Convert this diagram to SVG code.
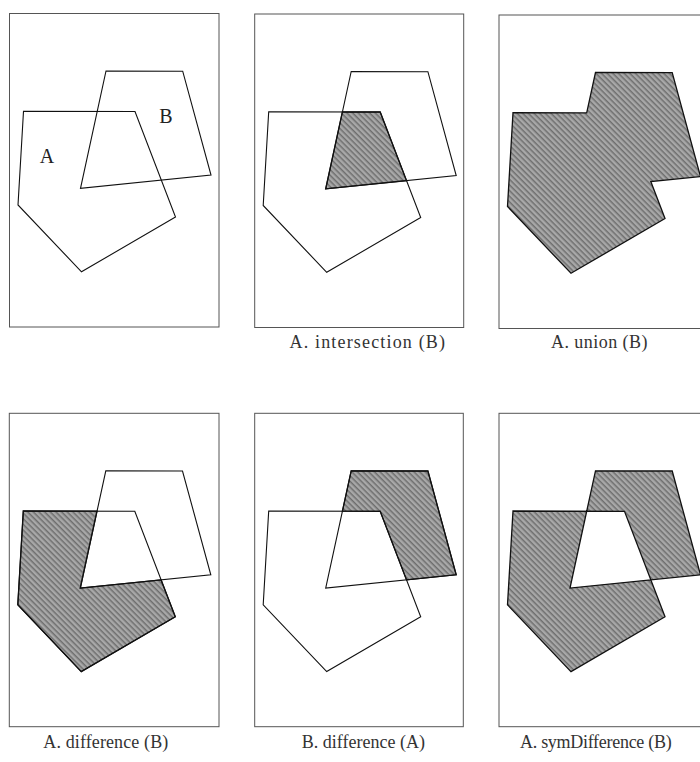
<svg xmlns="http://www.w3.org/2000/svg" width="700" height="762" viewBox="0 0 700 762">
<style>
.frame{fill:#fff;stroke:#555;stroke-width:1}
.ol{fill:none;stroke:#111;stroke-width:1.1;stroke-linejoin:miter}
.sh{fill:url(#hatch);stroke:#111;stroke-width:1.3;stroke-linejoin:miter}
.lbl{font-family:"Liberation Serif","Noto Serif",serif;font-size:18px;fill:#333}
.big{font-family:"Liberation Serif",serif;font-size:20px;fill:#222}
</style>
<defs>
<pattern id="hatch" width="4" height="4" patternUnits="userSpaceOnUse" patternTransform="rotate(45)">
<rect width="4" height="4" fill="#a8a8a8"/>
<rect width="4" height="1.5" fill="#6e6e6e"/>
</pattern>
<polygon id="pA" points="14,97.7 125.5,98 166,203.5 72,258.3 8.5,191.5"/>
<polygon id="pB" points="96.5,57.5 173.2,57.7 201.5,161.5 71,174.8"/>
</defs>
<rect width="700" height="762" fill="#fff"/>

<g id="panel-ab" transform="translate(9.5,13.5)">
<rect class="frame" x="0" y="0" width="209.5" height="313.5"/>
<use href="#pA" class="ol"/>
<use href="#pB" class="ol"/>
<text class="big" x="37.5" y="149.5" text-anchor="middle">A</text>
<text class="big" x="156.5" y="109.5" text-anchor="middle">B</text>
</g>

<g id="panel-intersection" transform="translate(254.7,14)">
<rect class="frame" x="0" y="0" width="209" height="313.5"/>
<polygon class="sh" points="87.7,97.9 125.5,98 151.8,166.6 71,174.8"/>
<use href="#pA" class="ol"/>
<use href="#pB" class="ol"/>
</g>
<text class="lbl" x="289.5" y="348" textLength="155.5" lengthAdjust="spacing">A. intersection (B)</text>

<g id="panel-union" transform="translate(499,15)">
<rect class="frame" x="0" y="0" width="209.5" height="313.5"/>
<polygon class="sh" points="14,97.7 87.7,97.9 96.5,57.5 173.2,57.7 201.5,161.5 151.8,166.6 166,203.5 72,258.3 8.5,191.5"/>
</g>
<text class="lbl" x="551" y="348" textLength="96.5" lengthAdjust="spacing">A. union (B)</text>

<g id="panel-a-diff-b" transform="translate(9.3,413.3)">
<rect class="frame" x="0" y="0" width="209.7" height="313.4"/>
<polygon class="sh" points="14,97.7 87.7,97.9 71,174.8 151.8,166.6 166,203.5 72,258.3 8.5,191.5"/>
<use href="#pA" class="ol"/>
<use href="#pB" class="ol"/>
</g>
<text class="lbl" x="43.3" y="748" textLength="125" lengthAdjust="spacing">A. difference (B)</text>

<g id="panel-b-diff-a" transform="translate(254.7,413.3)">
<rect class="frame" x="0" y="0" width="208.6" height="313.4"/>
<polygon class="sh" points="87.7,97.9 96.5,57.5 173.2,57.7 201.5,161.5 151.8,166.6 125.5,98"/>
<use href="#pA" class="ol"/>
<use href="#pB" class="ol"/>
</g>
<text class="lbl" x="301.7" y="748" textLength="123.3" lengthAdjust="spacing">B. difference (A)</text>

<g id="panel-symdiff" transform="translate(499,413.3)">
<rect class="frame" x="0" y="0" width="209.5" height="313.4"/>
<path class="sh" fill-rule="evenodd" d="M14,97.7 L125.5,98 L166,203.5 L72,258.3 L8.5,191.5 Z M96.5,57.5 L173.2,57.7 L201.5,161.5 L71,174.8 Z"/>
</g>
<text class="lbl" x="520" y="748" textLength="151.7" lengthAdjust="spacing">A. symDifference (B)</text>
</svg>
